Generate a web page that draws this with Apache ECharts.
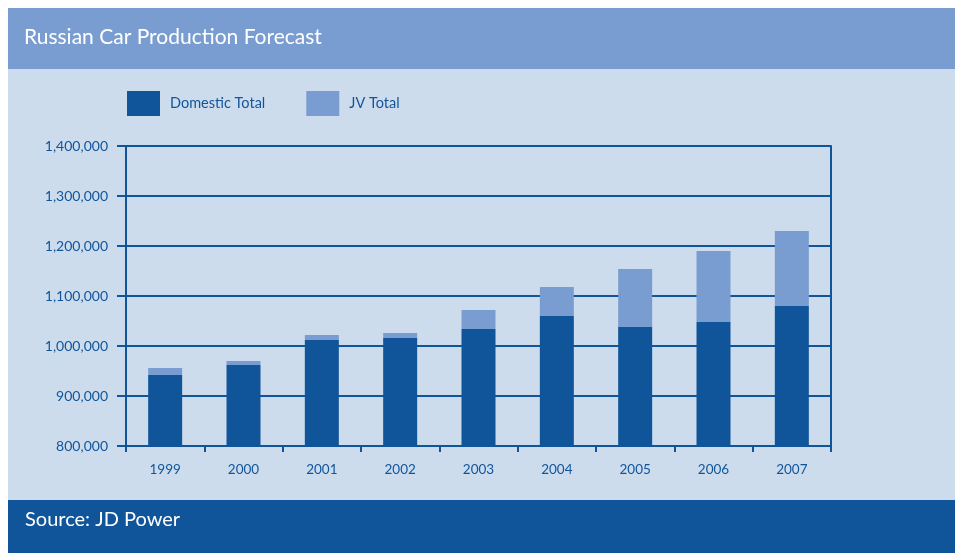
<!DOCTYPE html>
<html>
<head>
<meta charset="utf-8">
<script src="https://cdn.jsdelivr.net/npm/echarts@6/dist/echarts.min.js"></script>
<style>
  html, body { margin: 0; padding: 0; background: #ffffff; }
  #chart { width: 965px; height: 555px; }
</style>
</head>
<body>
<div id="chart"></div>
<script>
// Russian car production forecast, units per year
const years = ['1999', '2000', '2001', '2002', '2003', '2004', '2005', '2006', '2007'];
const domesticTotal = [942000, 962000, 1012000, 1016000, 1034000, 1060000, 1038000, 1048000, 1080000];
const jvTotal = [14000, 8000, 10000, 10000, 38000, 58000, 116000, 142000, 150000];
const seriesNames = ['Domestic Total', 'JV Total'];
const titleText = 'Russian Car Production Forecast';
const sourceText = 'Source: JD Power';

const DARK = '#10559a';
const LIGHT = '#7a9dd1';
const PANEL = '#cddced';
const FONT = 'Lato, "Open Sans", sans-serif';

const chart = echarts.init(document.getElementById('chart'));

chart.setOption({
  animation: false,
  backgroundColor: '#ffffff',
  textStyle: { fontFamily: FONT },
  graphic: [
    { type: 'rect', z: -10, shape: { x: 8, y: 8, width: 947, height: 61 }, style: { fill: LIGHT } },
    { type: 'rect', z: -10, shape: { x: 8, y: 69, width: 947, height: 431 }, style: { fill: PANEL } },
    { type: 'rect', z: -10, shape: { x: 8, y: 500, width: 947, height: 53 }, style: { fill: DARK } },
    { type: 'text', left: 24, top: 27, style: { text: titleText, fill: '#ffffff', font: '21px ' + FONT } },
    { type: 'text', left: 25, top: 510, style: { text: sourceText, fill: '#ffffff', font: '20px ' + FONT } }
  ],
  legend: {
    left: 127,
    top: 91,
    padding: 0,
    icon: 'rect',
    itemWidth: 33,
    itemHeight: 25,
    itemGap: 41,
    data: seriesNames,
    textStyle: { color: DARK, fontSize: 14.5, fontFamily: FONT, padding: [0, 0, 0, 5] }
  },
  grid: { left: 126, right: 134, top: 146, bottom: 109 },
  xAxis: {
    type: 'category',
    data: years,
    boundaryGap: true,
    axisLine: { show: true, lineStyle: { color: DARK, width: 2 } },
    axisTick: { show: true, length: 6, lineStyle: { color: DARK, width: 2 } },
    axisLabel: { color: DARK, fontSize: 13.5, margin: 17, fontFamily: FONT }
  },
  yAxis: [
    {
      type: 'value',
      min: 800000,
      max: 1400000,
      interval: 100000,
      axisLine: { show: true, lineStyle: { color: DARK, width: 2 } },
      axisTick: { show: true, length: 9, lineStyle: { color: DARK, width: 2 } },
      axisLabel: {
        color: DARK,
        fontSize: 14,
        margin: 18,
        fontFamily: FONT,
        formatter: v => v.toLocaleString('en-US')
      },
      splitLine: { show: true, lineStyle: { color: DARK, width: 2 } }
    },
    {
      type: 'value',
      position: 'right',
      min: 800000,
      max: 1400000,
      interval: 100000,
      axisLine: { show: true, lineStyle: { color: DARK, width: 2 } },
      axisTick: { show: false },
      axisLabel: { show: false },
      splitLine: { show: false }
    }
  ],
  series: [
    {
      name: seriesNames[0],
      type: 'bar',
      stack: 'total',
      barWidth: 34,
      itemStyle: { color: DARK },
      data: domesticTotal
    },
    {
      name: seriesNames[1],
      type: 'bar',
      stack: 'total',
      barWidth: 34,
      itemStyle: { color: LIGHT },
      data: jvTotal
    }
  ]
});
</script>
</body>
</html>
